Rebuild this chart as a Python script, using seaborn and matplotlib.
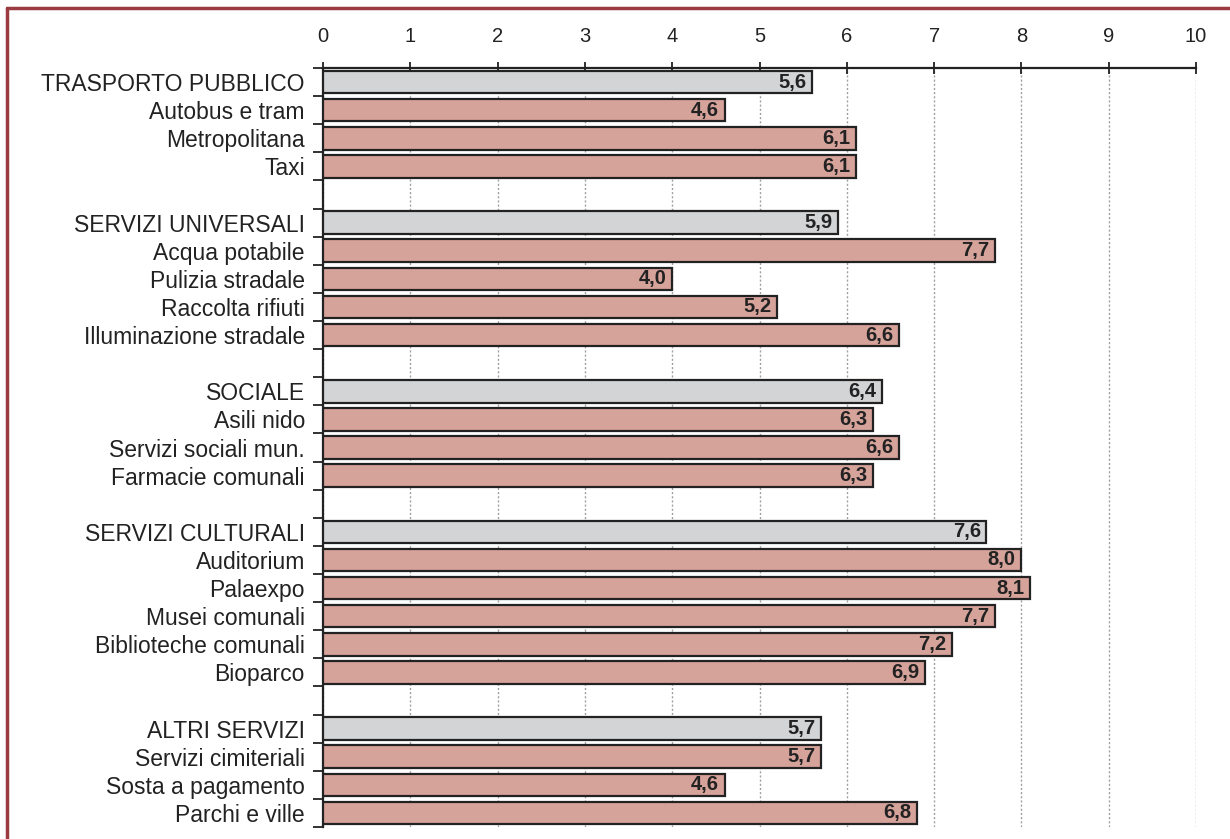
import matplotlib
matplotlib.use("Agg")
import matplotlib.pyplot as plt
import matplotlib.lines as mlines
import numpy as np
import pandas as pd
import seaborn as sns

# Satisfaction scores (0-10) by service group
labels = [
    "TRASPORTO PUBBLICO", "Autobus e tram", "Metropolitana", "Taxi", " ",
    "SERVIZI UNIVERSALI", "Acqua potabile", "Pulizia stradale", "Raccolta rifiuti",
    "Illuminazione stradale", "  ",
    "SOCIALE", "Asili nido", "Servizi sociali mun.", "Farmacie comunali", "   ",
    "SERVIZI CULTURALI", "Auditorium", "Palaexpo", "Musei comunali",
    "Biblioteche comunali", "Bioparco", "    ",
    "ALTRI SERVIZI", "Servizi cimiteriali", "Sosta a pagamento", "Parchi e ville",
]
values = [
    5.6, 4.6, 6.1, 6.1, np.nan,
    5.9, 7.7, 4.0, 5.2, 6.6, np.nan,
    6.4, 6.3, 6.6, 6.3, np.nan,
    7.6, 8.0, 8.1, 7.7, 7.2, 6.9, np.nan,
    5.7, 5.7, 4.6, 6.8,
]
kinds = [
    "group", "item", "item", "item", "blank",
    "group", "item", "item", "item", "item", "blank",
    "group", "item", "item", "item", "blank",
    "group", "item", "item", "item", "item", "item", "blank",
    "group", "item", "item", "item",
]
x_ticks = list(range(0, 11))

df = pd.DataFrame({"label": labels, "value": values, "kind": kinds})
palette = {"group": "#D3D4D6", "item": "#D6A39B", "blank": "#FFFFFF"}

sns.set_theme(style="white")
plt.rcParams["font.family"] = ["Liberation Sans", "DejaVu Sans"]

fig = plt.figure(figsize=(12.3, 8.39), dpi=100)
ax = fig.add_axes([323 / 1230, 1 - 827 / 839, (1196 - 323) / 1230, (827 - 68) / 839])

sns.barplot(
    data=df, x="value", y="label", hue="kind", palette=palette, order=labels,
    hue_order=["group", "item", "blank"], dodge=False, orient="h", width=0.8,
    saturation=1, edgecolor="#222222", linewidth=1.6, legend=False, ax=ax, zorder=3,
)

# value labels inside the bar end
for i, (v, k) in enumerate(zip(values, kinds)):
    if k == "blank":
        continue
    ax.annotate(f"{v:.1f}".replace(".", ","), xy=(v, i), xytext=(-4, 0),
                textcoords="offset points", ha="right", va="center",
                fontsize=14.5, fontweight="bold", color="#222222", zorder=4)

ax.set_xlim(0, 10)
ax.set_ylim(len(labels) - 0.5, -0.5)
ax.set_xticks(x_ticks)
ax.set_xticklabels([str(t) for t in x_ticks], fontsize=14.5, color="#222222")
ax.xaxis.tick_top()
ax.tick_params(axis="x", which="major", direction="inout", length=9, width=1.3,
               color="#222222", pad=11.5, top=True, bottom=False)
ax.set_xlabel("")
ax.set_ylabel("")

ax.set_yticks(range(len(labels)))
ax.set_yticklabels(labels, fontsize=16.5, color="#222222")
ax.set_yticks(np.arange(-0.5, len(labels), 1.0), minor=True)
ax.tick_params(axis="y", which="major", length=0, pad=13)
ax.tick_params(axis="y", which="minor", direction="out", length=7, width=1.3,
               color="#222222", left=True)

ax.grid(axis="x", which="major", color="#A0A0A0", linestyle=(0, (1.5, 1.5)),
        linewidth=1.0, zorder=0)
ax.grid(axis="y", visible=False)
ax.set_axisbelow(True)

for side in ["right", "bottom"]:
    ax.spines[side].set_visible(False)
for side in ["top", "left"]:
    ax.spines[side].set_visible(True)
    ax.spines[side].set_color("#222222")
    ax.spines[side].set_linewidth(1.6)

# dark red frame around the figure
frame_color = "#9A3B40"
fig.add_artist(mlines.Line2D([7 / 1230, 7 / 1230], [1 - 8 / 839, -0.05],
                             transform=fig.transFigure, color=frame_color, lw=2.5))
fig.add_artist(mlines.Line2D([7 / 1230, 1.05], [1 - 8 / 839, 1 - 8 / 839],
                             transform=fig.transFigure, color=frame_color, lw=2.5))

fig.savefig("out.png", dpi=100)
